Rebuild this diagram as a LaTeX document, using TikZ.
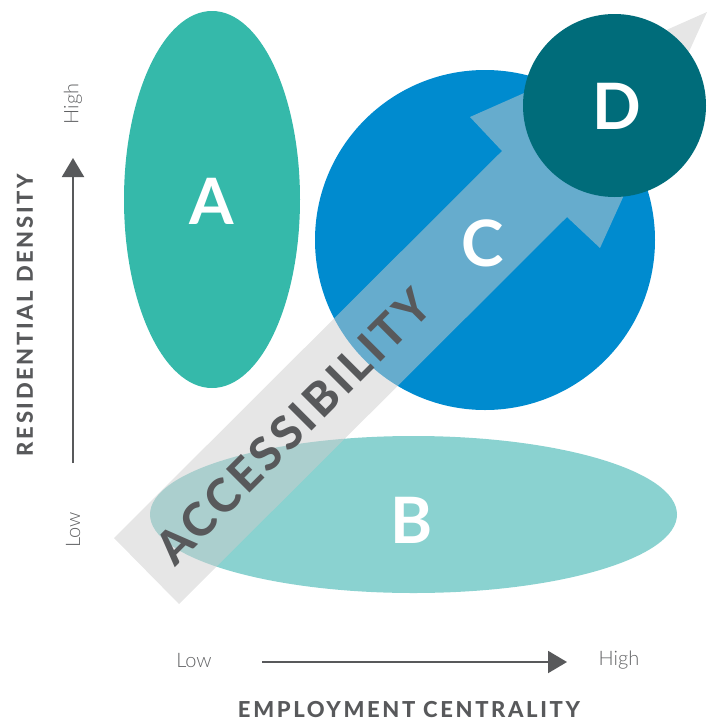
\documentclass[tikz,border=0pt]{standalone}
\usepackage{fontspec}
\usetikzlibrary{arrows.meta}
\setmainfont{Lato}
\newfontfamily\heavyfont[LetterSpace=8]{Lato Heavy}
\newfontfamily\titlefont[LetterSpace=12]{Lato Heavy}
\newfontfamily\bigletter{Lato Bold}
\newfontfamily\lightfont{Lato Light}
\definecolor{colA}{HTML}{35B9AA}
\definecolor{colB}{HTML}{8AD2D0}
\definecolor{colC}{HTML}{008BCF}
\definecolor{colD}{HTML}{006C7A}
\definecolor{txtgray}{HTML}{58595B}
\definecolor{lblgray}{HTML}{616264}
\definecolor{arrgray}{HTML}{CDCDCD}
\begin{document}
\begin{tikzpicture}[x=1pt,y=-1pt,
  letter/.style={text=white,font=\bigletter\fontsize{64}{64}\selectfont,inner sep=0pt},
  axtitle/.style={text=txtgray,font=\titlefont\fontsize{22}{22}\selectfont,inner sep=0pt},
  axlbl/.style={text=lblgray,font=\lightfont\fontsize{20}{20}\selectfont,inner sep=0pt},
  axarrow/.style={draw=txtgray,line width=2pt,-{Triangle[length=19pt,width=22pt]}}]
\useasboundingbox (0,0) rectangle (715,721);
% blobs
\fill[colA] (212,199.5) ellipse [x radius=88, y radius=188.5];
\fill[colB] (413.5,514.5) ellipse [x radius=263.5, y radius=78.5];
\fill[colC] (485,240) circle [radius=170];
% accessibility arrow
\coordinate (P1) at (114,538);
\coordinate (N1) at (502,151);
\coordinate (H1) at (470,117);
\coordinate (T) at (707,12);
\coordinate (H2) at (600,248);
\coordinate (N2) at (567,217);
\coordinate (P2) at (179,604);
\fill[arrgray,opacity=0.5] (P1) -- (N1) -- (H1) -- (T) -- (H2) -- (N2) -- (P2) -- cycle;
\node[text=txtgray,font=\heavyfont\fontsize{46}{46}\selectfont,rotate=45,inner sep=0pt] (acc) at (293,426.5) {ACCESSIBILITY};
\node[letter] (A) at (212,201) {A};
\node[letter] (B) at (412,520) {B};
\node[letter] (C) at (483,243) {C};
% D
\fill[colD] (614.5,105.5) circle [radius=91.5];
\node[letter] (D) at (617,106) {D};
% axes
\coordinate (v0) at (73,463);
\coordinate (v1) at (73,158);
\draw[axarrow] (v0) -- (v1);
\coordinate (h0) at (262,662);
\coordinate (h1) at (567,662);
\draw[axarrow] (h0) -- (h1);
\node[axlbl,rotate=90] (vhigh) at (73,104) {High};
\node[axlbl,rotate=90] (vlow) at (73,530) {Low};
\node[axlbl] (hlow) at (194,660) {Low};
\node[axlbl] (hhigh) at (619,660) {High};
\node[axtitle,rotate=90] (ytitle) at (25,315) {RESIDENTIAL DENSITY};
\node[axtitle] (xtitle) at (409,710) {EMPLOYMENT CENTRALITY};
\end{tikzpicture}
\end{document}
